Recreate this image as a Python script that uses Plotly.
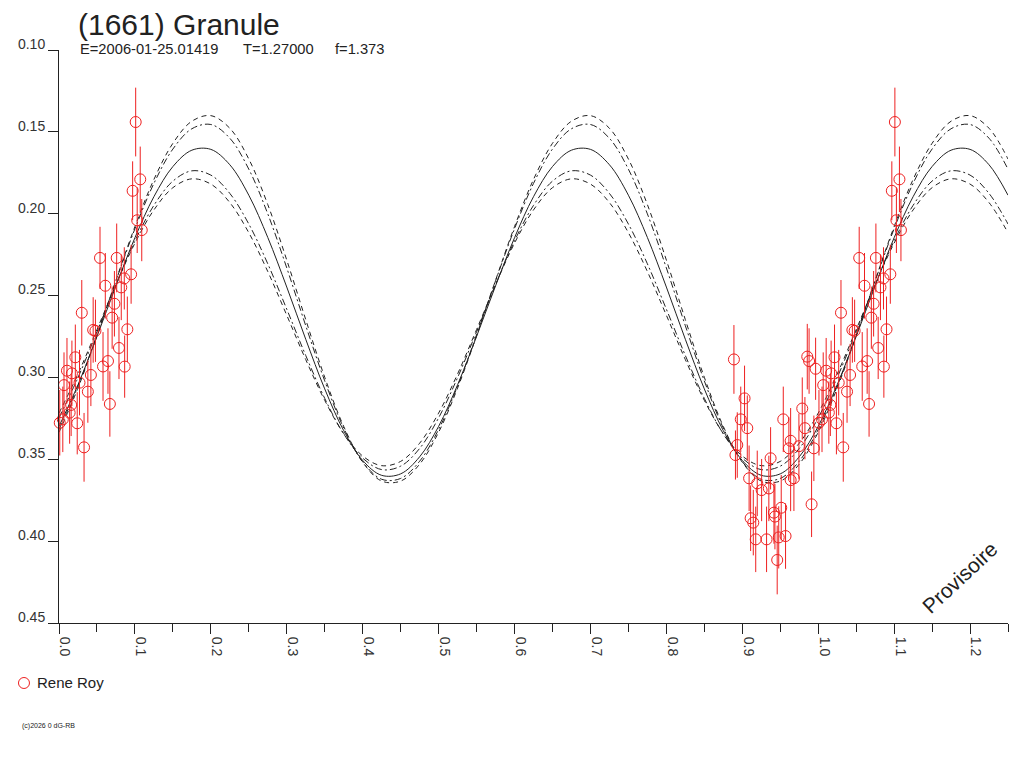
import plotly.graph_objects as go

# phase grid for the fitted curves
phase_grid = [0.000, 0.025, 0.050, 0.075, 0.100, 0.125, 0.150, 0.175, 0.200, 0.225,
              0.250, 0.275, 0.300, 0.325, 0.350, 0.375, 0.400, 0.425, 0.450, 0.475,
              0.500, 0.525, 0.550, 0.575, 0.600, 0.625, 0.650, 0.675, 0.700, 0.725,
              0.750, 0.775, 0.800, 0.825, 0.850, 0.875, 0.900, 0.925, 0.950, 0.975,
              1.000, 1.025, 1.050, 1.075, 1.100, 1.125, 1.150, 1.175, 1.200, 1.225, 1.250]

# fitted lightcurve (solid)
fit_mid = [0.3299, 0.3045, 0.2750, 0.2441, 0.2147, 0.1896, 0.1712, 0.1612, 0.1607, 0.1701,
           0.1887, 0.2145, 0.2448, 0.2767, 0.3070, 0.3325, 0.3507, 0.3598, 0.3589, 0.3485,
           0.3299, 0.3045, 0.2750, 0.2441, 0.2147, 0.1896, 0.1712, 0.1612, 0.1607, 0.1701,
           0.1887, 0.2145, 0.2448, 0.2767, 0.3070, 0.3325, 0.3507, 0.3598, 0.3589, 0.3485,
           0.3299, 0.3045, 0.2750, 0.2441, 0.2147, 0.1896, 0.1712, 0.1612, 0.1607, 0.1701, 0.1887]

# envelope curves
fit_hi_outer = [0.3335, 0.3065, 0.2746, 0.2407, 0.2079, 0.1791, 0.1570, 0.1435, 0.1401, 0.1478,
                0.1666, 0.1944, 0.2283, 0.2647, 0.2999, 0.3299, 0.3518, 0.3633, 0.3633, 0.3530,
                0.3335, 0.3065, 0.2746, 0.2407, 0.2079, 0.1791, 0.1570, 0.1435, 0.1401, 0.1478,
                0.1666, 0.1944, 0.2283, 0.2647, 0.2999, 0.3299, 0.3518, 0.3633, 0.3633, 0.3530,
                0.3335, 0.3065, 0.2746, 0.2407, 0.2079, 0.1791, 0.1570, 0.1435, 0.1401, 0.1478, 0.1666]
fit_hi_inner = [0.3318, 0.3053, 0.2740, 0.2410, 0.2092, 0.1815, 0.1605, 0.1481, 0.1455, 0.1539,
                0.1728, 0.2001, 0.2331, 0.2684, 0.3021, 0.3309, 0.3515, 0.3622, 0.3617, 0.3512,
                0.3318, 0.3053, 0.2740, 0.2410, 0.2092, 0.1815, 0.1605, 0.1481, 0.1455, 0.1539,
                0.1728, 0.2001, 0.2331, 0.2684, 0.3021, 0.3309, 0.3515, 0.3622, 0.3617, 0.3512,
                0.3318, 0.3053, 0.2740, 0.2410, 0.2092, 0.1815, 0.1605, 0.1481, 0.1455, 0.1539, 0.1728]
fit_lo_inner = [0.3247, 0.3001, 0.2721, 0.2433, 0.2166, 0.1949, 0.1801, 0.1738, 0.1764, 0.1876,
                0.2063, 0.2306, 0.2583, 0.2866, 0.3128, 0.3345, 0.3493, 0.3563, 0.3542, 0.3434,
                0.3247, 0.3001, 0.2721, 0.2433, 0.2166, 0.1949, 0.1801, 0.1738, 0.1764, 0.1876,
                0.2063, 0.2306, 0.2583, 0.2866, 0.3128, 0.3345, 0.3493, 0.3563, 0.3542, 0.3434,
                0.3247, 0.3001, 0.2721, 0.2433, 0.2166, 0.1949, 0.1801, 0.1738, 0.1764, 0.1876, 0.2063]
fit_lo_outer = [0.3218, 0.2979, 0.2708, 0.2433, 0.2180, 0.1977, 0.1841, 0.1787, 0.1819, 0.1932,
                0.2116, 0.2353, 0.2620, 0.2891, 0.3140, 0.3343, 0.3480, 0.3539, 0.3513, 0.3402,
                0.3218, 0.2979, 0.2708, 0.2433, 0.2180, 0.1977, 0.1841, 0.1787, 0.1819, 0.1932,
                0.2116, 0.2353, 0.2620, 0.2891, 0.3140, 0.3343, 0.3480, 0.3539, 0.3513, 0.3402,
                0.3218, 0.2979, 0.2708, 0.2433, 0.2180, 0.1977, 0.1841, 0.1787, 0.1819, 0.1932, 0.2116]

# observations (Rene Roy), phase in [0, 1)
obs_phase = [0.101, 0.107, 0.097, 0.103, 0.109, 0.054, 0.076, 0.095, 0.061, 0.086,
             0.082, 0.073, 0.070, 0.030, 0.045, 0.048, 0.090, 0.079, 0.0215, 0.0645,
             0.058, 0.0865, 0.0105, 0.017, 0.042, 0.0066, 0.027, 0.038, 0.067, 0.016,
             0.001, 0.005, 0.024, 0.033, 0.014,
             0.889, 0.9856, 0.988, 0.9966, 0.903, 0.979, 0.898, 0.954, 0.9066, 0.9825,
             0.9637, 0.8934, 0.9614, 0.9746, 0.9943, 0.9373, 0.891, 0.909, 0.9197, 0.9255,
             0.935, 0.968, 0.9637, 0.9913, 0.9513, 0.9417, 0.943, 0.911, 0.9145, 0.9177,
             0.932, 0.948, 0.957, 0.946]
obs_mag = [0.144, 0.179, 0.186, 0.204, 0.210, 0.227, 0.227, 0.237, 0.244, 0.2395,
           0.245, 0.255, 0.2635, 0.2605, 0.271, 0.2715, 0.2706, 0.282, 0.2877, 0.290,
           0.2933, 0.2934, 0.2959, 0.2975, 0.2985, 0.3047, 0.3032, 0.3087, 0.3162, 0.3168,
           0.3277, 0.3256, 0.328, 0.3427, 0.3215,
           0.289, 0.2873, 0.290, 0.2947, 0.3128, 0.319, 0.3256, 0.3256, 0.331, 0.331,
           0.3387, 0.3413, 0.3433, 0.342, 0.3433, 0.3494, 0.3474, 0.3616, 0.3647, 0.3688,
           0.3678, 0.3616, 0.3627, 0.3775, 0.3796, 0.3826, 0.385, 0.386, 0.3887, 0.3989,
           0.3989, 0.3977, 0.3969, 0.4115]
obs_err = [0.021, 0.020, 0.018, 0.020, 0.019, 0.019, 0.021, 0.018, 0.020, 0.019,
           0.020, 0.020, 0.019, 0.020, 0.020, 0.019, 0.020, 0.019, 0.020, 0.020,
           0.021, 0.019, 0.020, 0.020, 0.019, 0.020, 0.020, 0.019, 0.020, 0.019,
           0.020, 0.020, 0.019, 0.021, 0.019,
           0.021, 0.020, 0.020, 0.019, 0.020, 0.019, 0.020, 0.020, 0.020, 0.019,
           0.020, 0.020, 0.019, 0.020, 0.020, 0.019, 0.015, 0.020, 0.020, 0.019,
           0.020, 0.020, 0.019, 0.020, 0.020, 0.019, 0.020, 0.020, 0.020, 0.020,
           0.020, 0.019, 0.020, 0.021]

x_ticks = [0.0, 0.1, 0.2, 0.3, 0.4, 0.5, 0.6, 0.7, 0.8, 0.9, 1.0, 1.1, 1.2]
x_minor = [0.05, 0.15, 0.25, 0.35, 0.45, 0.55, 0.65, 0.75, 0.85, 0.95, 1.05, 1.15, 1.25]
y_ticks = [0.10, 0.15, 0.20, 0.25, 0.30, 0.35, 0.40, 0.45]

FONT = "Liberation Sans, Arial, sans-serif"
INK = "#222222"
RED = "#ee2020"

fig = go.Figure()

curves = [
    (fit_hi_outer, "5px,4px"),
    (fit_hi_inner, "7px,3px,2px,3px"),
    (fit_lo_inner, "7px,3px,2px,3px"),
    (fit_lo_outer, "5px,4px"),
    (fit_mid, "solid"),
]
for ys, dash in curves:
    fig.add_scatter(x=phase_grid, y=ys, mode="lines", line_shape="spline",
                    line=dict(color=INK, width=1, dash=dash), hoverinfo="skip")

# data wrapped over the plotted phase range
px, py, pe = [], [], []
for p, m, e in zip(obs_phase, obs_mag, obs_err):
    for shift in (-1, 0, 1):
        q = p + shift
        if 0 <= q <= 1.25:
            px.append(q)
            py.append(m)
            pe.append(e)

fig.add_scatter(x=px, y=py, mode="markers", name="Rene Roy", cliponaxis=False,
                marker=dict(symbol="circle-open", size=11, color=RED, line=dict(width=1)),
                error_y=dict(type="data", array=pe, color=RED, thickness=1, width=0))

# page body adds 8px around the figure
fig.update_layout(
    width=1016, height=760,
    margin=dict(l=51, r=16, t=42, b=145),
    paper_bgcolor="white", plot_bgcolor="white",
    showlegend=False,
    font=dict(family=FONT, size=14, color="#333333"),
)
fig.update_xaxes(range=[0, 1.25], tickmode="array", tickvals=x_ticks,
                 ticktext=["%.1f" % v for v in x_ticks], tickangle=90,
                 ticks="outside", ticklen=10, tickcolor=INK, showline=True,
                 linecolor=INK, linewidth=1, showgrid=False, zeroline=False,
                 ticklabelshift=6, automargin=False,
                 minor=dict(tickmode="array", tickvals=x_minor, ticks="outside",
                            ticklen=8, tickcolor=INK))
fig.update_yaxes(range=[0.45, 0.10], tickmode="array", tickvals=y_ticks,
                 ticktext=["%.2f" % v for v in y_ticks],
                 ticks="outside", ticklen=10, tickcolor=INK, showline=True,
                 linecolor=INK, linewidth=1, showgrid=False, zeroline=False,
                 ticklabelshift=6, automargin=False)

def note(text, x, y, size, **kw):
    fig.add_annotation(text=text, x=x, y=y, xref="paper", yref="paper",
                       showarrow=False, font=dict(family=FONT, size=size, color=kw.pop("color", "#222222")),
                       xanchor=kw.pop("xanchor", "left"), yanchor=kw.pop("yanchor", "middle"), **kw)

note("(1661) Granule", 0.018, 1.045, 30)
note("E=2006-01-25.01419", 0.020, 1.002, 14.7)
note("T=1.27000", 0.1918, 1.002, 14.7)
note("f=1.373", 0.2887, 1.002, 14.7)
note("Provisoire", 0.949, 0.080, 21, xanchor="center", textangle=-43)
note("Rene Roy", -0.0253, -0.1047, 15)
note("(c)2026 0 dG-RB", -0.0411, -0.1798, 7)

fig.add_shape(type="circle", xref="paper", yref="paper",
              xsizemode="pixel", ysizemode="pixel",
              xanchor=-0.0369, yanchor=-0.1047, x0=-5.5, x1=5.5, y0=-5.5, y1=5.5,
              line=dict(color=RED, width=1))

fig.write_html("out.html")
